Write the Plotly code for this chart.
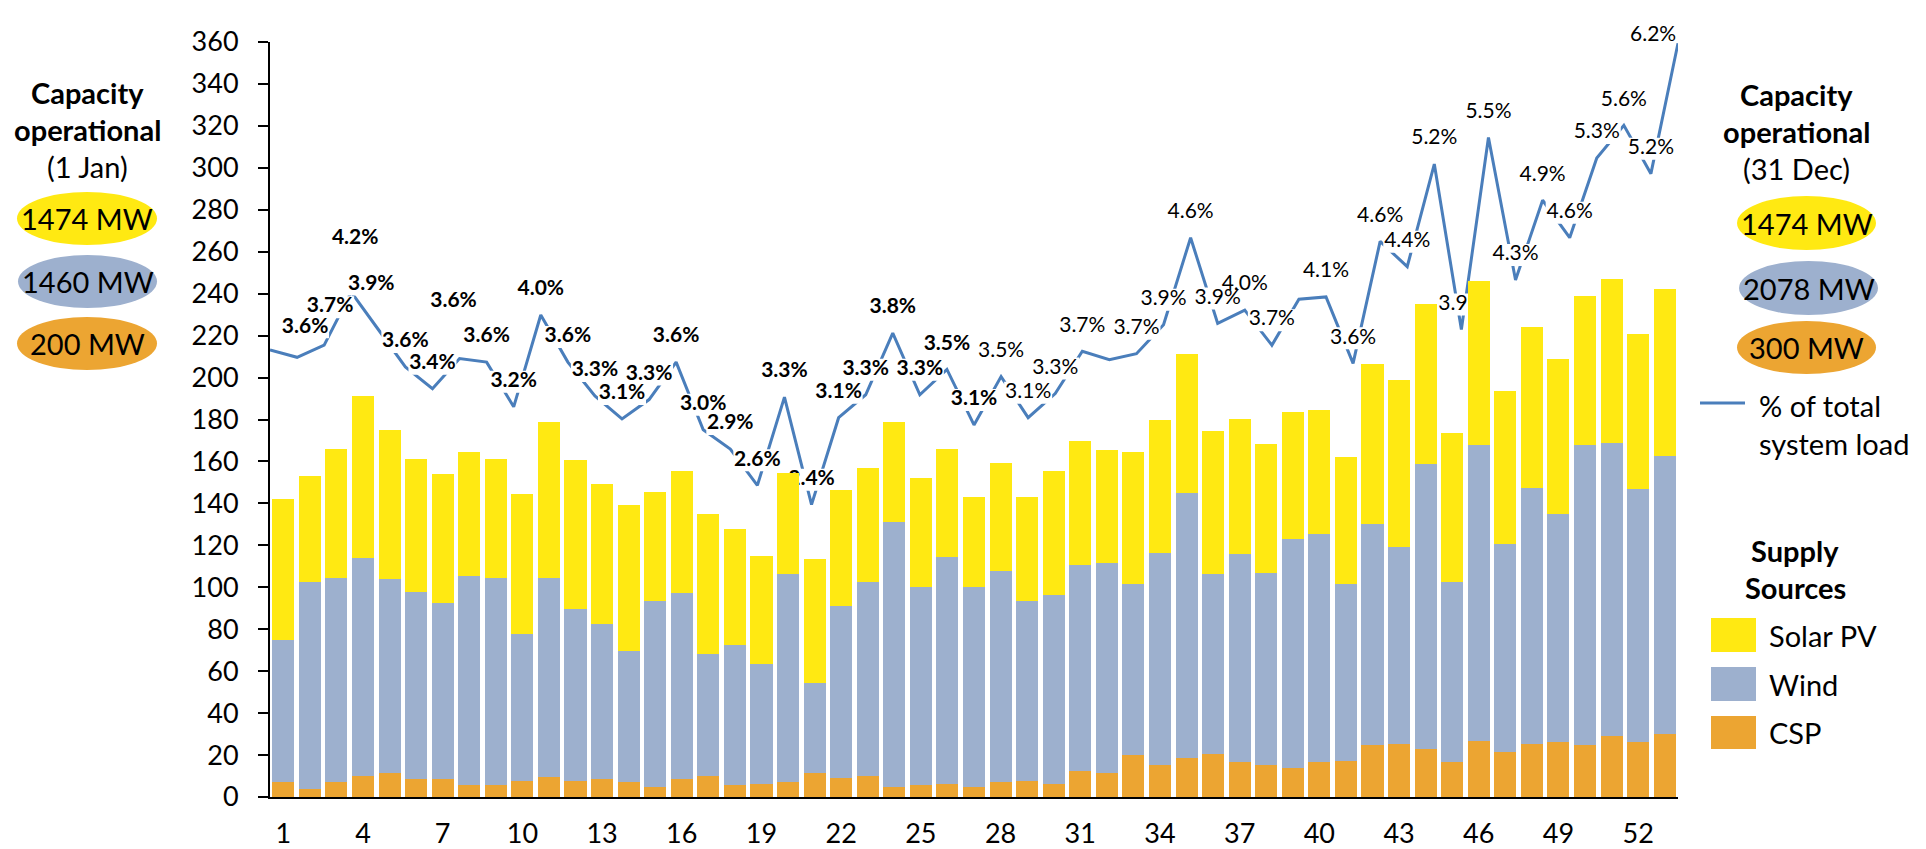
import plotly.graph_objects as go

# ---------------- data ----------------
weeks = list(range(1, 54))
csp = [7.2, 3.7, 7.2, 10.0, 11.3, 8.4, 8.4, 5.6, 5.6, 7.5, 9.4, 7.5, 8.4, 7.2, 4.6, 8.4, 10.0, 5.6, 6.2, 7.2,
       11.3, 9.1, 10.0, 4.6, 5.6, 6.2, 4.6, 7.2, 7.5, 6.2, 12.2, 11.3, 19.9, 15.1, 18.6, 20.5, 16.7, 15.1, 13.8,
       16.7, 17.0, 24.6, 25.3, 22.7, 16.7, 26.5, 21.5, 25.3, 26.2, 24.6, 29.1, 26.2, 30.0]
wind = [67.8, 98.8, 97.1, 103.8, 92.5, 89.2, 83.9, 99.6, 98.7, 70.1, 94.9, 82.0, 73.9, 62.3, 88.7, 88.7, 58.0,
        66.7, 57.1, 99.2, 42.9, 82.0, 92.5, 126.4, 94.4, 108.1, 95.4, 100.4, 85.8, 90.0, 98.3, 100.1, 81.5,
        101.1, 126.2, 85.9, 99.0, 91.7, 109.1, 108.6, 84.4, 105.4, 93.8, 135.9, 85.7, 141.2, 99.0, 121.9,
        108.6, 143.1, 139.5, 120.5, 132.5]
solar = [67.0, 50.5, 61.7, 77.2, 71.2, 63.4, 61.7, 59.1, 56.7, 66.7, 74.4, 71.0, 66.8, 69.6, 52.0, 58.2, 66.8,
         55.3, 51.5, 48.0, 59.2, 55.2, 54.3, 47.7, 52.0, 51.5, 42.9, 51.5, 49.6, 59.1, 59.1, 53.9, 63.0, 63.4,
         66.2, 68.0, 64.4, 61.4, 60.6, 59.1, 60.6, 76.5, 79.9, 76.4, 71.0, 78.3, 72.9, 76.8, 74.2, 71.3, 78.4,
         74.3, 79.5]
pct_load = [3.70, 3.64, 3.74, 4.18, 3.87, 3.56, 3.38, 3.63, 3.60, 3.23, 3.99, 3.60, 3.32, 3.13, 3.29, 3.60,
            3.04, 2.88, 2.58, 3.31, 2.42, 3.14, 3.33, 3.84, 3.33, 3.54, 3.08, 3.48, 3.14, 3.34, 3.69, 3.62,
            3.67, 3.91, 4.63, 3.92, 4.03, 3.74, 4.12, 4.14, 3.59, 4.60, 4.39, 5.24, 3.87, 5.46, 4.28, 4.94,
            4.63, 5.29, 5.56, 5.16, 6.24]
unlabelled_weeks = [1, 32, 39]
bold_label_last_week = 27
tick_weeks = list(range(1, 53, 3))
y_ticks = list(range(0, 361, 20))
cap_jan = ["1474 MW", "1460 MW", "200 MW"]
cap_dec = ["1474 MW", "2078 MW", "300 MW"]
series_names = ["Solar PV", "Wind", "CSP"]

# ---------------- style / layout ----------------
C_SOLAR, C_WIND, C_CSP, C_LINE = "#FFE912", "#9DB0CE", "#ECA532", "#4A7EBB"
FONT = "Lato"
W, H = 1926, 849
L, R, T, B = 270, 248, 42, 52
PW, PH = W - L - R, H - T - B
PCT_MAX, Y_MAX = 6.25, 360

# label offsets in pixels relative to the line vertex (dx, dy); default is straight above
label_offsets = {2: (8, -30), 3: (6, -38), 4: (4, -53), 5: (-7, -45), 8: (-6, -57)}
DEFAULT_OFF = (0, -25)
LAB_SIZE = 21


def px(xp):
    return (xp - L) / PW


def py(yp):
    return (H - B - yp) / PH


ux = (weeks[-1] - weeks[0]) / PW  # line-axis units per pixel
uy = PCT_MAX / PH

fig = go.Figure()

# line (base subplot)
fig.add_trace(go.Scatter(x=weeks, y=pct_load, mode="lines", xaxis="x", yaxis="y",
                         line=dict(color=C_LINE, width=3), hoverinfo="skip", showlegend=False))

annos = []

# label backgrounds + texts
bx, by = [], []
lx_b, ly_b, lt_b, lx_n, ly_n, lt_n = [], [], [], [], [], []
for w, v in zip(weeks, pct_load):
    if w in unlabelled_weeks:
        continue
    dx, dy = label_offsets.get(w, DEFAULT_OFF)
    cx = w + dx * ux
    cy = v - dy * uy
    txt = f"{v:.1f}%"
    bold = w <= bold_label_last_week
    if cy > PCT_MAX:
        # outside the plotting range: place in paper coordinates so it stays visible
        annos.append(dict(x=(cx - weeks[0]) / (weeks[-1] - weeks[0]), y=cy / PCT_MAX,
                          xref="paper", yref="paper", showarrow=False,
                          text=f"<b>{txt}</b>" if bold else txt,
                          font=dict(family=FONT, size=LAB_SIZE, color="black")))
        continue
    hw = (len(txt) * 11.5 + 2) / 2 * ux
    hh = 11 * uy
    bx += [cx - hw, cx + hw, cx + hw, cx - hw, cx - hw, None]
    by += [cy - hh, cy - hh, cy + hh, cy + hh, cy - hh, None]
    if bold:
        lx_b.append(cx); ly_b.append(cy); lt_b.append(f"<b>{txt}</b>")
    else:
        lx_n.append(cx); ly_n.append(cy); lt_n.append(txt)

fig.add_trace(go.Scatter(x=bx, y=by, mode="lines", fill="toself", fillcolor="white",
                         line=dict(width=0, color="white"), xaxis="x", yaxis="y",
                         hoverinfo="skip", showlegend=False))
for xs, ys, ts in [(lx_b, ly_b, lt_b), (lx_n, ly_n, lt_n)]:
    fig.add_trace(go.Scatter(x=xs, y=ys, text=ts, mode="text", textposition="middle center",
                             textfont=dict(family=FONT, size=LAB_SIZE, color="black"),
                             cliponaxis=False, xaxis="x", yaxis="y", hoverinfo="skip",
                             showlegend=False))

# stacked bars (overlay subplot, drawn on top)
for name, vals, col in [("CSP", csp, C_CSP), ("Wind", wind, C_WIND), ("Solar PV", solar, C_SOLAR)]:
    fig.add_trace(go.Bar(x=weeks, y=vals, name=name, marker=dict(color=col, line=dict(width=0)),
                         xaxis="x2", yaxis="y2", showlegend=False))

fig.update_layout(
    width=W, height=H, margin=dict(l=L, r=R, t=T, b=B, autoexpand=False),
    paper_bgcolor="white", plot_bgcolor="white",
    barmode="stack", bargap=0.17,
    font=dict(family=FONT, color="black"),
    xaxis=dict(range=[weeks[0], weeks[-1]], visible=False, fixedrange=True, automargin=False),
    yaxis=dict(range=[0, PCT_MAX], visible=False, fixedrange=True, automargin=False),
    xaxis2=dict(overlaying="x", anchor="y2", side="bottom", range=[0.5, 53.5],
                tickmode="array", tickvals=tick_weeks, ticktext=[str(t) for t in tick_weeks],
                ticks="", showgrid=False, zeroline=False, showline=True, linecolor="black",
                linewidth=2, tickfont=dict(family=FONT, size=27, color="black"),
                ticklabelstandoff=12, automargin=False),
    yaxis2=dict(overlaying="y", anchor="x2", side="left", range=[0, Y_MAX],
                tickmode="array", tickvals=y_ticks, ticks="outside", ticklen=10, tickwidth=2,
                tickcolor="black", showgrid=False, zeroline=False, showline=True,
                linecolor="black", linewidth=2,
                tickfont=dict(family=FONT, size=27, color="black"), ticklabelstandoff=14,
                automargin=False),
)

shapes = []


def text(xp, yp, s, size=29, bold=False, anchor="center"):
    annos.append(dict(x=px(xp), y=py(yp), xref="paper", yref="paper", showarrow=False,
                      text=f"<b>{s}</b>" if bold else s, xanchor=anchor, yanchor="middle",
                      font=dict(family=FONT, size=size, color="black")))


cols = [C_SOLAR, C_WIND, C_CSP]
# left panel
text(87, 92, "Capacity", bold=True)
text(87, 130, "operational", bold=True)
text(87, 166, "(1 Jan)")
left_ell = [(17, 157, 192, 245), (18, 157, 255, 308), (17, 157, 317, 370)]
for (x0, x1, y0, y1), c, s in zip(left_ell, cols, cap_jan):
    shapes.append(dict(type="circle", xref="paper", yref="paper", x0=px(x0), x1=px(x1),
                       y0=py(y1), y1=py(y0), fillcolor=c, line=dict(width=0)))
    text((x0 + x1) / 2, (y0 + y1) / 2, s, size=29)

# right panel
text(1796, 94, "Capacity", bold=True)
text(1796, 131, "operational", bold=True)
text(1796, 168, "(31 Dec)")
right_ell = [(1737, 1876, 196, 250), (1739, 1878, 261, 315), (1737, 1876, 321, 374)]
for (x0, x1, y0, y1), c, s in zip(right_ell, cols, cap_dec):
    shapes.append(dict(type="circle", xref="paper", yref="paper", x0=px(x0), x1=px(x1),
                       y0=py(y1), y1=py(y0), fillcolor=c, line=dict(width=0)))
    text((x0 + x1) / 2, (y0 + y1) / 2, s, size=29)

# legend: line
shapes.append(dict(type="line", xref="paper", yref="paper", x0=px(1700), x1=px(1745),
                   y0=py(403), y1=py(403), line=dict(color=C_LINE, width=3)))
text(1757, 405, "% of total", anchor="left")
text(1757, 443, "system load", anchor="left")
# legend: supply sources
text(1795, 550, "Supply", bold=True)
text(1795, 587, "Sources", bold=True)
box_rows = [(618, 652), (667, 701), (716, 749)]
for (y0, y1), c, s in zip(box_rows, cols, series_names):
    shapes.append(dict(type="rect", xref="paper", yref="paper", x0=px(1711), x1=px(1756),
                       y0=py(y1), y1=py(y0), fillcolor=c, line=dict(width=0)))
    text(1767, (y0 + y1) / 2, s, anchor="left")

fig.update_layout(shapes=shapes, annotations=annos)
fig.write_html("out.html", config={"displayModeBar": False},
               post_script="document.body.style.margin='0';document.body.style.overflow='hidden';")
